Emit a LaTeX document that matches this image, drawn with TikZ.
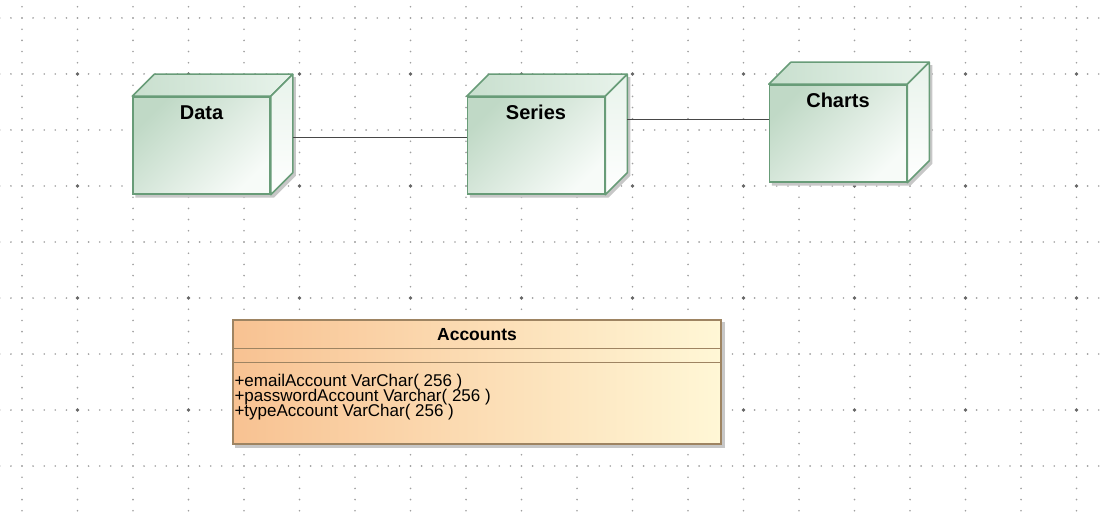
\documentclass[tikz,border=0pt]{standalone}
\usepackage{fontspec}
\setmainfont{Liberation Sans}
\usetikzlibrary{positioning, backgrounds}
\definecolor{devedge}{RGB}{104,156,120}
\definecolor{devdark}{RGB}{192,217,198}
\definecolor{devlight}{RGB}{247,251,248}
\definecolor{devtopl}{RGB}{200,223,206}
\definecolor{devtopr}{RGB}{232,243,235}
\definecolor{classpeach}{RGB}{248,194,146}
\definecolor{classcream}{RGB}{255,247,214}
\definecolor{classedge}{RGB}{158,132,98}
\definecolor{griddot}{RGB}{160,160,160}

\begin{document}
\begin{tikzpicture}
[x=1pt, y=-1pt,
 dev/.style={rectangle, draw=devedge, line width=1.5pt, top color=devdark, bottom color=devlight,
   shading angle=45, minimum width=137pt, minimum height=97pt, inner sep=0pt,
   text height=23pt, text depth=74pt, font=\fontsize{20}{24}\selectfont\bfseries},
 devtop/.style={draw=devedge, line width=1.5pt, line join=round, left color=devtopl, right color=devtopr},
 devside/.style={draw=devedge, line width=1.5pt, line join=round, top color=devtopr, bottom color=white},
 shade/.style={fill=black!22},
 link/.style={draw=black!72, line width=1.6pt},
 classbox/.style={rectangle, draw=classedge, line width=1.3pt, left color=classpeach, right color=classcream,
   minimum width=488pt, minimum height=124pt, inner sep=0pt},
 classline/.style={draw=classedge, line width=1.1pt},
 classtitle/.style={inner sep=0pt, font=\fontsize{17.5}{20}\selectfont\bfseries},
 attrtext/.style={inner sep=0pt, align=left, font=\fontsize{17}{16}\selectfont},
 gridv/.style={draw=griddot, line width=1.8pt, line cap=round, dash pattern=on 0pt off 11.2pt},
 gridh/.style={draw=griddot, line width=1.8pt, line cap=round, dash pattern=on 0pt off 11.1pt}]

\useasboundingbox (0,0) rectangle (1108,513);
\clip (0,0) rectangle (1108,513);

% dotted grid
\begin{scope}[on background layer]
\fill[white] (0,0) rectangle (1108,513);
\foreach \gx in {0,...,19}
  \draw[gridv] (22+55.5*\gx, -4.4) -- (22+55.5*\gx, 520);
\foreach \gy in {0,...,8}
  \draw[gridh] (-0.2, 18+56*\gy) -- (1112, 18+56*\gy);
\foreach \gx in {1,3,...,19}
  \foreach \gy in {1,3,5,7}
    \fill[black!60] (22+55.5*\gx, 18+56*\gy) circle (1.8pt);
\end{scope}

% device nodes
\node[dev] (data) at (201.5,145.5) {Data};
\node[dev] (series) [right = 196pt of data] {Series};
\node[dev] (charts) [right = 163.5pt of series, yshift=12pt] {Charts};

\foreach \n in {data, series, charts} {
  \begin{scope}[on background layer]
  \fill[shade] ([shift={(3,3)}]\n.north west) -- ([shift={(25,-19)}]\n.north west)
    -- ([shift={(25,-19)}]\n.north east) -- ([shift={(25,-19)}]\n.south east)
    -- ([shift={(3,3)}]\n.south east) -- ([shift={(3,3)}]\n.south west) -- cycle;
  \end{scope}
  \draw[devtop] (\n.north west) -- ([shift={(22,-22)}]\n.north west)
    -- ([shift={(22,-22)}]\n.north east) -- (\n.north east) -- cycle;
  \draw[devside] (\n.north east) -- ([shift={(22,-22)}]\n.north east)
    -- ([shift={(22,-22)}]\n.south east) -- (\n.south east) -- cycle;
}

\draw[link] ([xshift=22pt,yshift=8pt]data.east) -- ([yshift=8pt]series.west);
\draw[link] ([xshift=22pt,yshift=26pt]series.east) -- ([yshift=14pt]charts.west);

% class box
\node[classbox] (accounts) at (477,382) {};
\begin{scope}[on background layer]
\fill[shade] ([shift={(3,3)}]accounts.north west) rectangle ([shift={(3,3)}]accounts.south east);
\end{scope}
\draw[classline] ([yshift=-29pt]accounts.north west) -- ([yshift=-29pt]accounts.north east);
\draw[classline] ([yshift=-43pt]accounts.north west) -- ([yshift=-43pt]accounts.north east);
\node[classtitle, anchor=base] (acctitle) at ([yshift=-21pt]accounts.north) {Accounts};
\node[attrtext, anchor=base west] (attrs) at ([xshift=2pt,yshift=-97pt]accounts.north west)
  {+emailAccount VarChar( 256 )\\[-1pt]+passwordAccount Varchar( 256 )\\[-1pt]+typeAccount VarChar( 256 )};

\end{tikzpicture}
\end{document}
